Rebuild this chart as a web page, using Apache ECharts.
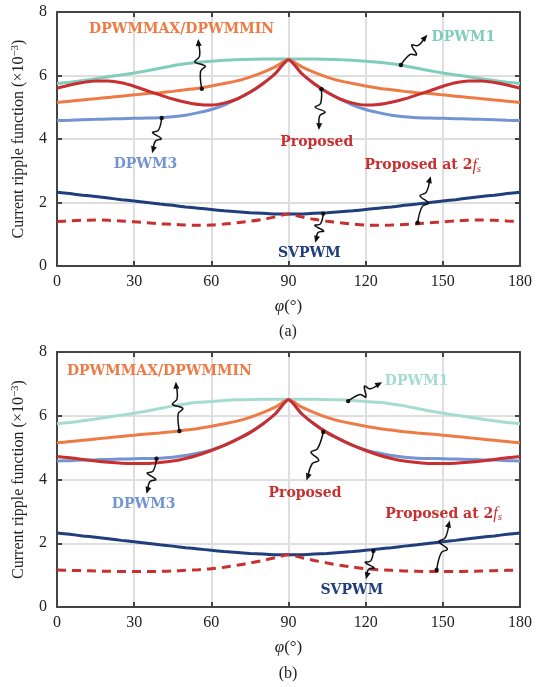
<!DOCTYPE html>
<html>
<head>
<meta charset="utf-8">
<script src="https://cdn.jsdelivr.net/npm/echarts@6/dist/echarts.min.js"></script>
<style>
html, body { margin: 0; padding: 0; background: #fff; }
#main { width: 545px; height: 687px; }
</style>
</head>
<body>
<div id="main"></div>
<script>
// phase angle, degrees
var phi = [0,5,10,15,20,25,30,35,40,45,50,55,60,65,70,75,80,85,90,95,100,105,110,115,120,125,130,135,140,145,150,155,160,165,170,175,180];

// curves shared by (a) and (b)
var dpwm1 = [5.75,5.79,5.84,5.90,5.96,6.02,6.08,6.15,6.23,6.31,6.37,6.42,6.45,6.48,6.50,6.51,6.52,6.52,6.52,6.52,6.52,6.51,6.50,6.48,6.45,6.42,6.37,6.31,6.23,6.15,6.08,6.02,5.96,5.90,5.84,5.79,5.75];
var dpwmMax = [5.15,5.19,5.23,5.27,5.31,5.35,5.39,5.43,5.46,5.50,5.55,5.60,5.67,5.75,5.83,5.95,6.10,6.28,6.50,6.28,6.10,5.95,5.83,5.75,5.67,5.60,5.55,5.50,5.46,5.43,5.39,5.35,5.31,5.27,5.23,5.19,5.15];
var dpwm3 = [4.58,4.59,4.61,4.62,4.63,4.64,4.65,4.66,4.67,4.70,4.75,4.83,4.93,5.07,5.26,5.47,5.74,6.07,6.50,6.07,5.74,5.47,5.26,5.07,4.93,4.83,4.75,4.70,4.67,4.66,4.65,4.64,4.63,4.62,4.61,4.59,4.58];
var svpwm = [2.32,2.28,2.23,2.19,2.14,2.09,2.05,2.00,1.95,1.91,1.86,1.82,1.78,1.74,1.71,1.68,1.66,1.64,1.64,1.64,1.66,1.68,1.71,1.74,1.78,1.82,1.86,1.91,1.95,2.00,2.05,2.09,2.14,2.19,2.23,2.28,2.32];

// (a)
var proposedA = [5.60,5.70,5.78,5.83,5.83,5.77,5.66,5.52,5.39,5.26,5.16,5.09,5.07,5.13,5.26,5.47,5.74,6.07,6.50,6.07,5.74,5.47,5.26,5.13,5.07,5.09,5.16,5.26,5.39,5.52,5.66,5.77,5.83,5.83,5.78,5.70,5.60];
var proposed2fsA = [1.40,1.42,1.44,1.45,1.44,1.42,1.39,1.36,1.33,1.31,1.29,1.28,1.29,1.32,1.36,1.41,1.47,1.55,1.64,1.55,1.47,1.41,1.36,1.32,1.29,1.28,1.29,1.31,1.33,1.36,1.39,1.42,1.44,1.45,1.44,1.42,1.40];

// (b)
var proposedB = [4.72,4.68,4.63,4.58,4.54,4.51,4.50,4.50,4.53,4.58,4.66,4.77,4.91,5.07,5.26,5.47,5.74,6.07,6.50,6.07,5.74,5.47,5.26,5.07,4.91,4.77,4.66,4.58,4.53,4.50,4.50,4.51,4.54,4.58,4.63,4.68,4.72];
var proposed2fsB = [1.16,1.15,1.14,1.13,1.12,1.11,1.11,1.11,1.12,1.13,1.15,1.17,1.20,1.25,1.31,1.38,1.46,1.55,1.64,1.55,1.46,1.38,1.31,1.25,1.20,1.17,1.15,1.13,1.12,1.11,1.11,1.11,1.12,1.13,1.14,1.15,1.16];

var TEAL = '#7fcdbb', TEAL_B = '#a6dccf', ORANGE = '#ee7b45', BLUE = '#7394d3', RED = '#c92f2f', NAVY = '#1f3e7c';
var FRAME = '#444';
var SERIF = '"Liberation Serif", "DejaVu Serif", serif';

// label annotations: text, colour, label centre [phi, y], dot on curve, arrow head
var notesA = [
  {t: 'DPWMMAX/DPWMMIN', c: ORANGE, at: [48.4, 7.46], from: [56.3, 5.58], to: [54.9, 7.15]},
  {t: 'DPWM1', c: TEAL, at: [158, 7.2], from: [133.7, 6.33], to: [144, 7.28]},
  {t: 'DPWM3', c: BLUE, at: [34.4, 3.2], from: [40.7, 4.66], to: [37, 3.55]},
  {t: 'Proposed', c: RED, at: [101, 3.88], from: [102.8, 5.57], to: [101.8, 4.28]},
  {t: 'Proposed at 2{i|f}{s|s}', c: RED, at: [142.2, 3.16], from: [140.2, 1.36], to: [145.3, 2.83]},
  {t: 'SVPWM', c: NAVY, at: [98.1, 0.41], from: [103.5, 1.65], to: [100.4, 0.73]}
];
var notesB = [
  {t: 'DPWMMAX/DPWMMIN', c: ORANGE, at: [39.8, 7.38], from: [47.6, 5.52], to: [46.2, 7.07]},
  {t: 'DPWM1', c: TEAL_B, at: [139.8, 7.07], from: [113.2, 6.46], to: [126.4, 7.05]},
  {t: 'DPWM3', c: BLUE, at: [33.7, 3.23], from: [38.7, 4.65], to: [34.8, 3.55]},
  {t: 'Proposed', c: RED, at: [96.4, 3.58], from: [103.5, 5.49], to: [97, 3.97]},
  {t: 'Proposed at 2{i|f}{s|s}', c: RED, at: [150.3, 2.92], from: [147.6, 1.16], to: [152.7, 2.71]},
  {t: 'SVPWM', c: NAVY, at: [114.6, 0.53], from: [123, 1.76], to: [120.1, 0.87]}
];

function pairs(ys) {
  return phi.map(function (p, i) { return [p, ys[i]]; });
}

function line(name, ys, color, g, dashed) {
  return {
    name: name, type: 'line', xAxisIndex: g * 2, yAxisIndex: g * 2,
    data: pairs(ys), smooth: 0.25, showSymbol: false, silent: true,
    lineStyle: {color: color, width: 3, type: dashed ? [9, 6] : 'solid', cap: 'butt'}
  };
}

function xAxes(g) {
  var base = {
    type: 'value', gridIndex: g, min: 0, max: 180, interval: 30,
    axisLine: {show: true, onZero: false, lineStyle: {color: FRAME, width: 2}},
    axisTick: {show: true, inside: true, length: 5, lineStyle: {color: FRAME, width: 2}},
    splitLine: {show: false}
  };
  var bottom = Object.assign({}, base, {
    position: 'bottom',
    name: '{i|φ}(°)', nameLocation: 'middle', nameGap: 32,
    nameTextStyle: {fontFamily: SERIF, fontSize: 17, color: '#222',
      rich: {i: {fontFamily: SERIF, fontStyle: 'italic', fontSize: 17, color: '#222'}}},
    axisLabel: {fontFamily: SERIF, fontSize: 16, color: '#222', margin: 8},
    splitLine: {show: true, lineStyle: {color: '#dedede', width: 2}}
  });
  var top = Object.assign({}, base, {position: 'top', axisLabel: {show: false}});
  return [bottom, top];
}

function yAxes(g) {
  var base = {
    type: 'value', gridIndex: g, min: 0, max: 8, interval: 2,
    axisLine: {show: true, onZero: false, lineStyle: {color: FRAME, width: 2}},
    axisTick: {show: true, inside: true, length: 5, lineStyle: {color: FRAME, width: 2}},
    splitLine: {show: false}
  };
  var left = Object.assign({}, base, {
    position: 'left',
    name: 'Current ripple function (×10{sup|−3})', nameLocation: 'middle', nameGap: 29,
    nameTextStyle: {fontFamily: SERIF, fontSize: 16, color: '#222',
      rich: {sup: {fontFamily: SERIF, fontSize: 11, color: '#222', padding: [0, 0, 7, 0]}}},
    axisLabel: {fontFamily: SERIF, fontSize: 16, color: '#222', margin: 10},
    splitLine: {show: true, lineStyle: {color: '#dedede', width: 2}}
  });
  var right = Object.assign({}, base, {position: 'right', axisLabel: {show: false}});
  return [left, right];
}

var chart = echarts.init(document.getElementById('main'), null, {renderer: 'canvas'});

var option = {
  backgroundColor: '#fff',
  animation: false,
  grid: [
    {left: 57, right: 25, top: 12, height: 254},
    {left: 57, right: 25, top: 352, height: 255}
  ],
  xAxis: xAxes(0).concat(xAxes(1)),
  yAxis: yAxes(0).concat(yAxes(1)),
  series: [
    line('DPWM1', dpwm1, TEAL, 0),
    line('DPWMMAX/DPWMMIN', dpwmMax, ORANGE, 0),
    line('DPWM3', dpwm3, BLUE, 0),
    line('Proposed', proposedA, RED, 0),
    line('SVPWM', svpwm, NAVY, 0),
    line('Proposed at 2fs', proposed2fsA, RED, 0, true),

    line('DPWM1', dpwm1, TEAL_B, 1),
    line('DPWMMAX/DPWMMIN', dpwmMax, ORANGE, 1),
    line('DPWM3', dpwm3, BLUE, 1),
    line('Proposed', proposedB, RED, 1),
    line('SVPWM', svpwm, NAVY, 1),
    line('Proposed at 2fs', proposed2fsB, RED, 1, true)
  ]
};
chart.setOption(option);

// squiggly arrows + labels, placed through the axes
function notes(list, g) {
  var out = [];
  list.forEach(function (n) {
    var p = chart.convertToPixel({gridIndex: g}, n.at);
    var a = chart.convertToPixel({gridIndex: g}, n.from);
    var b = chart.convertToPixel({gridIndex: g}, n.to);
    var dx = b[0] - a[0], dy = b[1] - a[1];
    var len = Math.sqrt(dx * dx + dy * dy);
    var ux = dx / len, uy = dy / len, nx = -uy, ny = ux;
    function at(t, off) { return [a[0] + dx * t + nx * off, a[1] + dy * t + ny * off]; }
    var tip = [b[0] - ux * 4, b[1] - uy * 4];
    out.push({
      type: 'polyline', silent: true, z: 50,
      shape: {points: [a, at(0.35, 0), at(0.45, 5), at(0.55, -5), at(0.65, 0), tip], smooth: 0.4},
      style: {stroke: '#111', lineWidth: 1.5, fill: null}
    });
    out.push({
      type: 'polygon', silent: true, z: 51,
      shape: {points: [b, [b[0] - ux * 7 + nx * 3, b[1] - uy * 7 + ny * 3], [b[0] - ux * 7 - nx * 3, b[1] - uy * 7 - ny * 3]]},
      style: {fill: '#111'}
    });
    out.push({
      type: 'circle', silent: true, z: 51,
      shape: {cx: a[0], cy: a[1], r: 2.2}, style: {fill: '#111'}
    });
    out.push({
      type: 'text', silent: true, z: 52, x: p[0], y: p[1],
      style: {
        text: n.t, fill: n.c, align: 'center', verticalAlign: 'middle',
        font: 'bold 14px "DejaVu Serif", serif',
        rich: {
          i: {fill: n.c, fontFamily: SERIF, fontStyle: 'italic', fontWeight: 'normal', fontSize: 16},
          s: {fill: n.c, fontFamily: SERIF, fontStyle: 'italic', fontWeight: 'normal', fontSize: 11, padding: [7, 0, 0, 0]}
        }
      }
    });
  });
  return out;
}

var gfx = notes(notesA, 0).concat(notes(notesB, 1));
gfx.push({type: 'text', silent: true, x: 288, y: 332,
  style: {text: '(a)', fill: '#222', align: 'center', verticalAlign: 'middle', font: '16px ' + SERIF}});
gfx.push({type: 'text', silent: true, x: 288, y: 674,
  style: {text: '(b)', fill: '#222', align: 'center', verticalAlign: 'middle', font: '16px ' + SERIF}});
chart.setOption({graphic: gfx});
</script>
</body>
</html>
